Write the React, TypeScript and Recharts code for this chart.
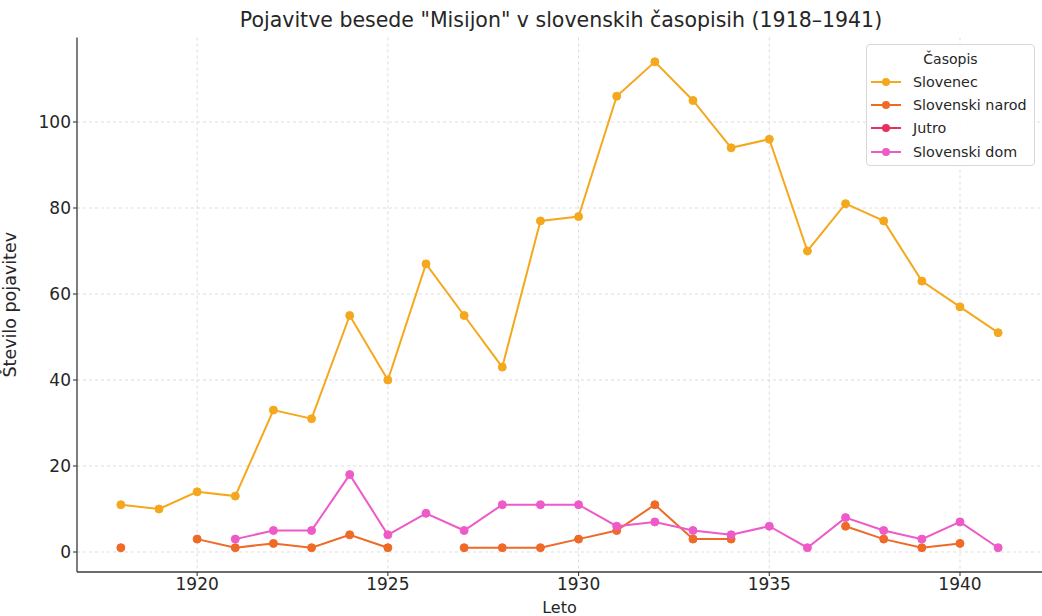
import React from 'react';
import { LineChart, Line, XAxis, YAxis, CartesianGrid, Legend } from 'recharts';

const years = [1918, 1919, 1920, 1921, 1922, 1923, 1924, 1925, 1926, 1927, 1928, 1929, 1930, 1931, 1932, 1933, 1934, 1935, 1936, 1937, 1938, 1939, 1940, 1941];
const slovenec = [11, 10, 14, 13, 33, 31, 55, 40, 67, 55, 43, 77, 78, 106, 114, 105, 94, 96, 70, 81, 77, 63, 57, 51];
const slovenskiNarod = [1, null, 3, 1, 2, 1, 4, 1, null, 1, 1, 1, 3, 5, 11, 3, 3, null, null, 6, 3, 1, 2, null];
const jutro = [null, null, null, null, null, null, null, null, null, null, null, null, null, null, null, null, null, null, null, null, null, null, null, null];
const slovenskiDom = [null, null, null, 3, 5, 5, 18, 4, 9, 5, 11, 11, 11, 6, 7, 5, 4, 6, 1, 8, 5, 3, 7, 1];

const xTicks = [1920, 1925, 1930, 1935, 1940];
const yTicks = [0, 20, 40, 60, 80, 100];

const title = 'Pojavitve besede "Misijon" v slovenskih časopisih (1918–1941)';
const xLabel = 'Leto';
const yLabel = 'Število pojavitev';
const legendTitle = 'Časopis';

const series = [
  { key: 'slovenec', name: 'Slovenec', values: slovenec, color: '#F5A81E' },
  { key: 'narod', name: 'Slovenski narod', values: slovenskiNarod, color: '#EE6A26' },
  { key: 'jutro', name: 'Jutro', values: jutro, color: '#E8305A' },
  { key: 'dom', name: 'Slovenski dom', values: slovenskiDom, color: '#EE5AC8' },
];

const data = years.map((y, i) => {
  const row: any = { year: y };
  series.forEach((s) => { row[s.key] = s.values[i]; });
  return row;
});

const FONT = '"DejaVu Sans", sans-serif';
const TXT = '#262626';

const LegendBox = () => (
  <div style={{ width: 169, height: 122, border: '1px solid #d8d8d8', borderRadius: 4, background: 'rgba(255,255,255,0.85)', fontFamily: FONT, color: TXT, boxSizing: 'border-box' }}>
    <div style={{ textAlign: 'center', fontSize: 14, lineHeight: '16px', height: 16, marginTop: 6, marginBottom: 3 }}>{legendTitle}</div>
    {series.map((s) => (
      <div key={s.key} style={{ display: 'flex', alignItems: 'center', height: 23.3, fontSize: 14.3 }}>
        <svg width={44} height={12} style={{ flex: 'none' }}>
          <line x1={4} y1={6} x2={34} y2={6} stroke={s.color} strokeWidth={2} />
          <circle cx={19} cy={6} r={4} fill={s.color} />
        </svg>
        <span style={{ marginLeft: 2 }}>{s.name}</span>
      </div>
    ))}
  </div>
);

export default function App() {
  return (
    <div style={{ position: 'absolute', left: 0, top: 0, width: 1042, height: 616, background: '#fff', fontFamily: FONT }}>
      <LineChart width={1042} height={616} data={data} margin={{ top: 37.5, right: 0, bottom: 0, left: 0 }}>
        <CartesianGrid stroke="#d4d4d4" strokeDasharray="3 3" strokeWidth={0.8} syncWithTicks />
        <XAxis
          dataKey="year"
          type="number"
          domain={[1916.85, 1942.15]}
          allowDataOverflow
          ticks={xTicks}
          height={44}
          tickSize={4}
          tickMargin={2}
          axisLine={{ stroke: '#3a3a3a', strokeWidth: 1.3 }}
          tickLine={{ stroke: '#3a3a3a', strokeWidth: 1.1 }}
          tick={{ fontSize: 17, fill: TXT, fontFamily: FONT }}
          label={{ value: xLabel, position: 'insideBottom', offset: 3, fontSize: 16, fill: TXT, fontFamily: FONT }}
        />
        <YAxis
          type="number"
          domain={[-4.65, 119.65]}
          allowDataOverflow
          ticks={yTicks}
          width={77}
          tickSize={4}
          tickMargin={2}
          axisLine={{ stroke: '#3a3a3a', strokeWidth: 1.3 }}
          tickLine={{ stroke: '#3a3a3a', strokeWidth: 1.1 }}
          tick={{ fontSize: 17, fill: TXT, fontFamily: FONT }}
          label={{ value: yLabel, angle: -90, position: 'insideLeft', offset: 10, fontSize: 17.5, fill: TXT, fontFamily: FONT, style: { textAnchor: 'middle' } }}
        />
        <Legend
          layout="vertical"
          align="center"
          verticalAlign="middle"
          content={() => <LegendBox />}
          wrapperStyle={{ position: 'absolute', left: 866, top: 44, width: 169, height: 122 }}
        />
        {series.map((s) => (
          <Line
            key={s.key}
            dataKey={s.key}
            name={s.name}
            stroke={s.color}
            strokeWidth={2}
            dot={{ r: 4, fill: s.color, stroke: s.color, strokeWidth: 1 }}
            activeDot={false}
            isAnimationActive={false}
            connectNulls={false}
          />
        ))}
        <text x={561} y={27} textAnchor="middle" fontSize={20.5} fill={TXT} fontFamily={FONT}>{title}</text>
      </LineChart>
    </div>
  );
}
